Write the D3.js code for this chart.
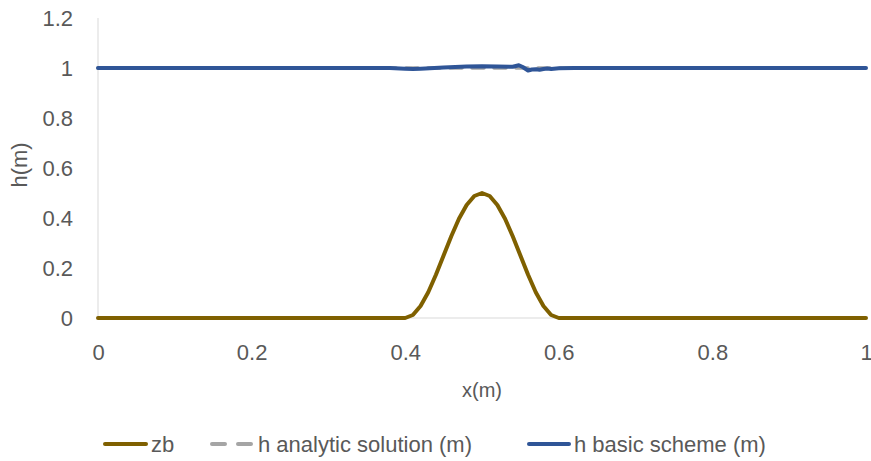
<!DOCTYPE html>
<html>
<head>
<meta charset="utf-8">
<script src="https://cdn.jsdelivr.net/npm/d3@7"></script>
<style>
  body { margin: 0; background: #fff; }
  svg { display: block; }
  text { font-family: "Liberation Sans", Arial, sans-serif; fill: #595959; }
</style>
</head>
<body>
<svg id="chart" width="871" height="461"></svg>
<script>
// Bed elevation zb(x)
const zbX = [0, 0.1, 0.2, 0.3, 0.4, 0.41, 0.42, 0.43, 0.44, 0.45, 0.46, 0.47, 0.48, 0.49, 0.5,
             0.51, 0.52, 0.53, 0.54, 0.55, 0.56, 0.57, 0.58, 0.59, 0.6, 0.7, 0.8, 0.9, 1];
const zbY = [0, 0, 0, 0, 0, 0.012, 0.048, 0.103, 0.173, 0.25, 0.327, 0.397, 0.452, 0.488, 0.5,
             0.488, 0.452, 0.397, 0.327, 0.25, 0.173, 0.103, 0.048, 0.012, 0, 0, 0, 0, 0];

// Analytic free-surface solution
const analyticX = [0, 0.2, 0.4, 0.6, 0.8, 1];
const analyticY = [1, 1, 1, 1, 1, 1];

// Basic scheme result
const basicX = [0, 0.1, 0.2, 0.3, 0.38, 0.4, 0.41, 0.42, 0.45, 0.48, 0.5, 0.52, 0.54, 0.548, 0.553,
                0.56, 0.565, 0.57, 0.575, 0.58, 0.585, 0.59, 0.6, 0.62, 0.7, 0.8, 0.9, 1];
const basicY = [1, 1, 1, 1, 1, 0.997, 0.996, 0.997, 1.002, 1.006, 1.007, 1.006, 1.005, 1.011, 1.004,
                0.99, 0.994, 0.995, 0.993, 0.996, 0.998, 0.996, 0.999, 1, 1, 1, 1, 1];

const xTicks = [0, 0.2, 0.4, 0.6, 0.8, 1];
const yTicks = [0, 0.2, 0.4, 0.6, 0.8, 1, 1.2];

const svg = d3.select("#chart");
const plotL = 98, plotR = 866, plotT = 18, plotB = 318;

const x = d3.scaleLinear().domain([0, 1]).range([plotL, plotR]);
const y = d3.scaleLinear().domain([0, 1.2]).range([plotB, plotT]);

// Axis lines
svg.append("line").attr("x1", plotL).attr("x2", plotL).attr("y1", plotT).attr("y2", plotB)
  .attr("stroke", "#d9d9d9").attr("stroke-width", 1);
svg.append("line").attr("x1", plotL).attr("x2", plotR).attr("y1", plotB).attr("y2", plotB)
  .attr("stroke", "#d9d9d9").attr("stroke-width", 1);

// Tick labels
const yAxis = svg.append("g").attr("transform", `translate(${plotL},0)`)
  .call(d3.axisLeft(y).tickValues(yTicks).tickSize(0).tickPadding(25).tickFormat(d3.format("")));
const xAxis = svg.append("g").attr("transform", `translate(0,${plotB})`)
  .call(d3.axisBottom(x).tickValues(xTicks).tickSize(0).tickPadding(26).tickFormat(d3.format("")));
[yAxis, xAxis].forEach(g => {
  g.select(".domain").remove();
  g.selectAll("text").attr("font-size", 22).attr("fill", "#595959")
    .style("font-family", "'Liberation Sans', Arial, sans-serif");
});

// Axis titles
svg.append("text").attr("x", 482).attr("y", 397).attr("text-anchor", "middle")
  .attr("font-size", 20).text("x(m)");
svg.append("text").attr("transform", "translate(27,165) rotate(-90)").attr("text-anchor", "middle")
  .attr("font-size", 22).text("h(m)");

const line = d3.line().x(d => x(d[0])).y(d => y(d[1]));

const series = [
  { name: "zb", xs: zbX, ys: zbY, color: "#7f6000", width: 4, dash: null },
  { name: "h analytic solution (m)", xs: analyticX, ys: analyticY, color: "#a5a5a5", width: 3.5, dash: "12,10" },
  { name: "h basic scheme (m)", xs: basicX, ys: basicY, color: "#2f5597", width: 4, dash: null }
];

series.forEach(s => {
  svg.append("path")
    .datum(s.xs.map((v, i) => [v, s.ys[i]]))
    .attr("d", line)
    .attr("fill", "none")
    .attr("stroke", s.color)
    .attr("stroke-width", s.width)
    .attr("stroke-linejoin", "round")
    .attr("stroke-linecap", "round")
    .attr("stroke-dasharray", s.dash);
});

// Legend
const legendItems = [
  { s: series[0], x0: 105, x1: 146 },
  { s: series[1], x0: 212, x1: 253 },
  { s: series[2], x0: 529, x1: 569 }
];
const ly = 444;
legendItems.forEach(it => {
  svg.append("line").attr("x1", it.x0).attr("x2", it.x1).attr("y1", ly).attr("y2", ly)
    .attr("stroke", it.s.color).attr("stroke-width", 4)
    .attr("stroke-linecap", "round")
    .attr("stroke-dasharray", it.s.dash ? "13,13" : null);
  svg.append("text").attr("x", it.x1 + 5).attr("y", ly + 8).attr("font-size", 22).text(it.s.name);
});
</script>
</body>
</html>
